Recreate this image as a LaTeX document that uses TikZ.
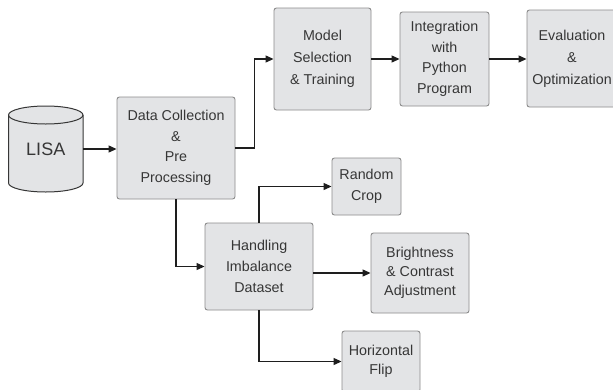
\documentclass[tikz,border=0pt]{standalone}
\usepackage{fontspec}
\setmainfont{Liberation Sans}
\usetikzlibrary{arrows.meta}
\definecolor{boxfill}{HTML}{E3E4E6}
\definecolor{boxline}{HTML}{8C8C8C}
\definecolor{txt}{HTML}{363636}
\definecolor{wire}{HTML}{1E1E1E}
\begin{document}
\begin{tikzpicture}[x=1pt,y=-1pt,
  box/.style={draw=boxline,fill=boxfill,line width=0.9pt,rounded corners=2.5pt,
    align=center,text=txt,inner sep=0pt,
    font=\fontsize{14.3}{20.5}\selectfont},
  flow/.style={draw=wire,line width=1.2pt,-{Triangle[length=8pt,width=7pt]}}]
\useasboundingbox (0,0) rectangle (613,389);
\clip (0,0) rectangle (613,389);
\fill[white] (0,0) rectangle (613,389);

% database cylinder (y axis points down, so angle 90 is the lower side)
\draw[draw=txt,fill=boxfill,line width=1pt]
  (8.5,115) -- (8.5,183) arc[start angle=180,end angle=0,x radius=37.25,y radius=9]
  -- (83,115) arc[start angle=0,end angle=-180,x radius=37.25,y radius=9] -- cycle;
\draw[draw=txt,line width=1pt] (8.5,115) arc[start angle=180,end angle=0,x radius=37.25,y radius=9];
\node[text=txt,font=\fontsize{18}{20}\selectfont,minimum width=74.5pt,minimum height=40pt,inner sep=0pt]
  (lisa) at (45.75,149) {LISA};

% process boxes
\node[box,minimum width=118pt,minimum height=102pt] (dc) at (176,148)
  {Data Collection\\\&\\Pre\\Processing};
\node[box,minimum width=97pt,minimum height=102pt,font=\fontsize{14.3}{22}\selectfont] (model) at (322.5,59)
  {Model\\Selection\\\& Training};
\node[box,minimum width=89pt,minimum height=94pt] (integ) at (444.5,59)
  {Integration\\with\\Python\\Program};
\node[box,minimum width=90pt,minimum height=97pt,font=\fontsize{14.3}{22}\selectfont] (eval) at (572,58.5)
  {Evaluation\\\&\\Optimization};
\node[box,minimum width=69pt,minimum height=57pt] (rc) at (366.5,186.5)
  {Random\\Crop};
\node[box,minimum width=108pt,minimum height=87pt,font=\fontsize{14.3}{21}\selectfont] (hid) at (259,266.5)
  {Handling\\Imbalance\\Dataset};
\node[box,minimum width=98pt,minimum height=80pt,font=\fontsize{14.3}{19}\selectfont] (bright) at (420,273)
  {Brightness\\\& Contrast\\Adjustment};
\node[box,minimum width=78pt,minimum height=61pt,font=\fontsize{14.3}{19}\selectfont] (hf) at (381,361.5)
  {Horizontal\\Flip};

% connectors
\draw[flow] (lisa.east) -- (lisa.east -| dc.west);
\draw[flow] (dc.east) -- ++(19,0) |- (model.west);
\draw[flow] (model.east) -- (integ.west);
\draw[flow] (integ.east) -- (integ.east -| eval.west);
\draw[flow] (dc.south) |- (hid.west);
\draw[flow] (hid.north) |- (rc.west);
\draw[flow] (hid.east |- bright.west) -- (bright.west);
\draw[flow] (hid.south) |- (hf.west);
\end{tikzpicture}
\end{document}
